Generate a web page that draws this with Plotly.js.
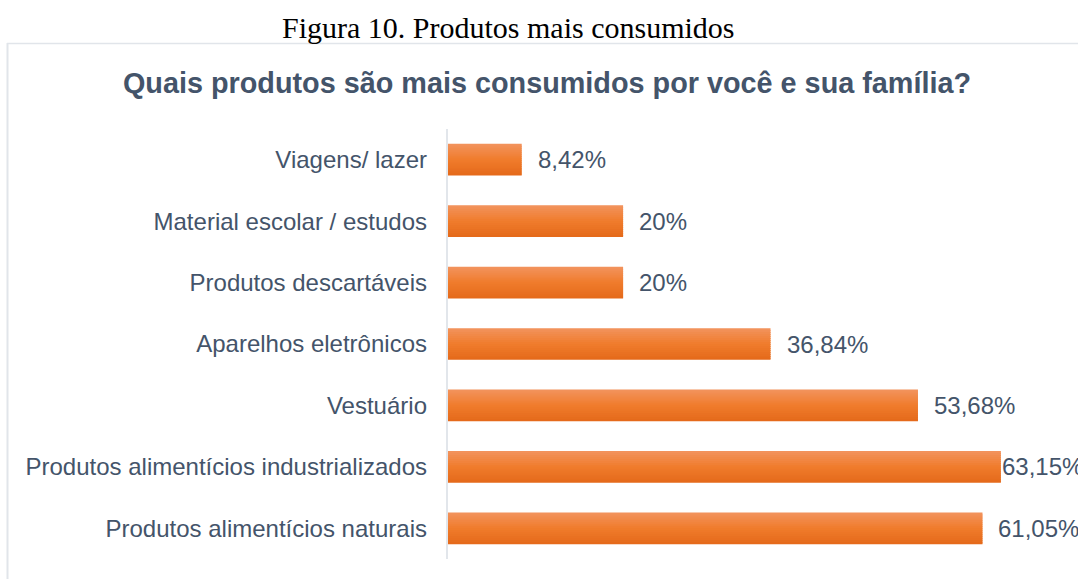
<!DOCTYPE html>
<html>
<head>
<meta charset="utf-8">
<script src="https://cdn.plot.ly/plotly-3.0.1.min.js"></script>
<style>html,body{margin:0;padding:0;background:#fff;overflow:hidden}#chart{width:1078px;height:579px}</style>
</head>
<body>
<div id="chart"></div>
<script>
// Data (bottom to top, as drawn on a horizontal bar chart)
const categories = [
  "Produtos alimentícios naturais",
  "Produtos alimentícios industrializados",
  "Vestuário",
  "Aparelhos eletrônicos",
  "Produtos descartáveis",
  "Material escolar / estudos",
  "Viagens/ lazer"
];
const values = [61.05, 63.15, 53.68, 36.84, 20, 20, 8.42];
const valueLabels = ["61,05%", "63,15%", "53,68%", "36,84%", "20%", "20%", "8,42%"];

const W = 1078, H = 579;
const M = {l: 448, r: 0, t: 129, b: 20};
const pw = W - M.l - M.r, ph = H - M.t - M.b;
const px2x = px => (px - M.l) / pw;
const px2y = py => (H - M.b - py) / ph;

// Vertical gradient on the bars, simulated with thin overlaid strips
const barW = 0.516, N = 16;
const stops = [[242,147,94],[240,124,44],[228,105,26]];
function lerp(a,b,t){return a.map((v,i)=>Math.round(v+(b[i]-v)*t));}
function colorAt(t){ // t: 0 top -> 1 bottom
  const c = t < 0.5 ? lerp(stops[0],stops[1],t*2) : lerp(stops[1],stops[2],(t-0.5)*2);
  return `rgb(${c[0]},${c[1]},${c[2]})`;
}
const traces = [];
for (let i = 0; i < N; i++) {
  const sw = barW / N;
  const top = barW/2 - i*sw;
  const extra = i < N-1 ? sw*0.5 : 0;
  traces.push({
    type: 'bar', orientation: 'h',
    x: values, y: categories,
    offset: top - sw - extra, width: sw + extra,
    marker: {color: colorAt((i+0.5)/N), line: {width: 0}},
    hoverinfo: 'skip', showlegend: false
  });
}

const annotations = values.map((v, i) => ({
  x: v, y: categories[i], xref: 'x', yref: 'y',
  text: valueLabels[i], showarrow: false,
  xanchor: 'left', yanchor: 'middle',
  xshift: v === Math.max(...values) ? -1 : 14,
  font: {family: 'Liberation Sans, Arial, sans-serif', size: 24, color: '#44546A'}
}));
annotations.push({
  text: 'Figura 10. Produtos mais consumidos',
  xref: 'paper', yref: 'paper', x: px2x(508), y: px2y(28),
  xanchor: 'center', yanchor: 'middle', showarrow: false,
  font: {family: 'Liberation Serif, Times New Roman, serif', size: 30, color: '#000'}
});

const lineCol = '#E1E5EA';
const shapes = [
  {type: 'line', xref: 'paper', yref: 'paper', x0: px2x(7), x1: px2x(1090), y0: px2y(43.5), y1: px2y(43.5), line: {color: lineCol, width: 1.5}},
  {type: 'line', xref: 'paper', yref: 'paper', x0: px2x(7.5), x1: px2x(7.5), y0: px2y(43), y1: px2y(590), line: {color: lineCol, width: 2}},
  {type: 'line', xref: 'paper', yref: 'paper', x0: px2x(447), x1: px2x(447), y0: px2y(129), y1: px2y(559), line: {color: '#D9DEE5', width: 1.5}}
];

const layout = {
  width: W, height: H,
  margin: M,
  paper_bgcolor: '#fff', plot_bgcolor: '#fff',
  barmode: 'overlay',
  title: {
    text: '<b>Quais produtos são mais consumidos por você e sua família?</b>',
    xref: 'container', yref: 'container', x: 547/W, y: 1 - 83/H,
    xanchor: 'center', yanchor: 'middle',
    font: {family: 'Liberation Sans, Arial, sans-serif', size: 28.8, color: '#44546A'}
  },
  xaxis: {range: [0, pw/8.755], showticklabels: false, showgrid: false, zeroline: false, showline: false, fixedrange: true},
  yaxis: {
    type: 'category', categoryorder: 'array', categoryarray: categories,
    showgrid: false, zeroline: false, showline: false, ticks: '',
    ticklabelstandoff: 20,
    tickfont: {family: 'Liberation Sans, Arial, sans-serif', size: 24, color: '#44546A'},
    fixedrange: true
  },
  annotations: annotations,
  shapes: shapes
};

Plotly.newPlot('chart', traces, layout, {displayModeBar: false, staticPlot: true});
</script>
</body>
</html>
